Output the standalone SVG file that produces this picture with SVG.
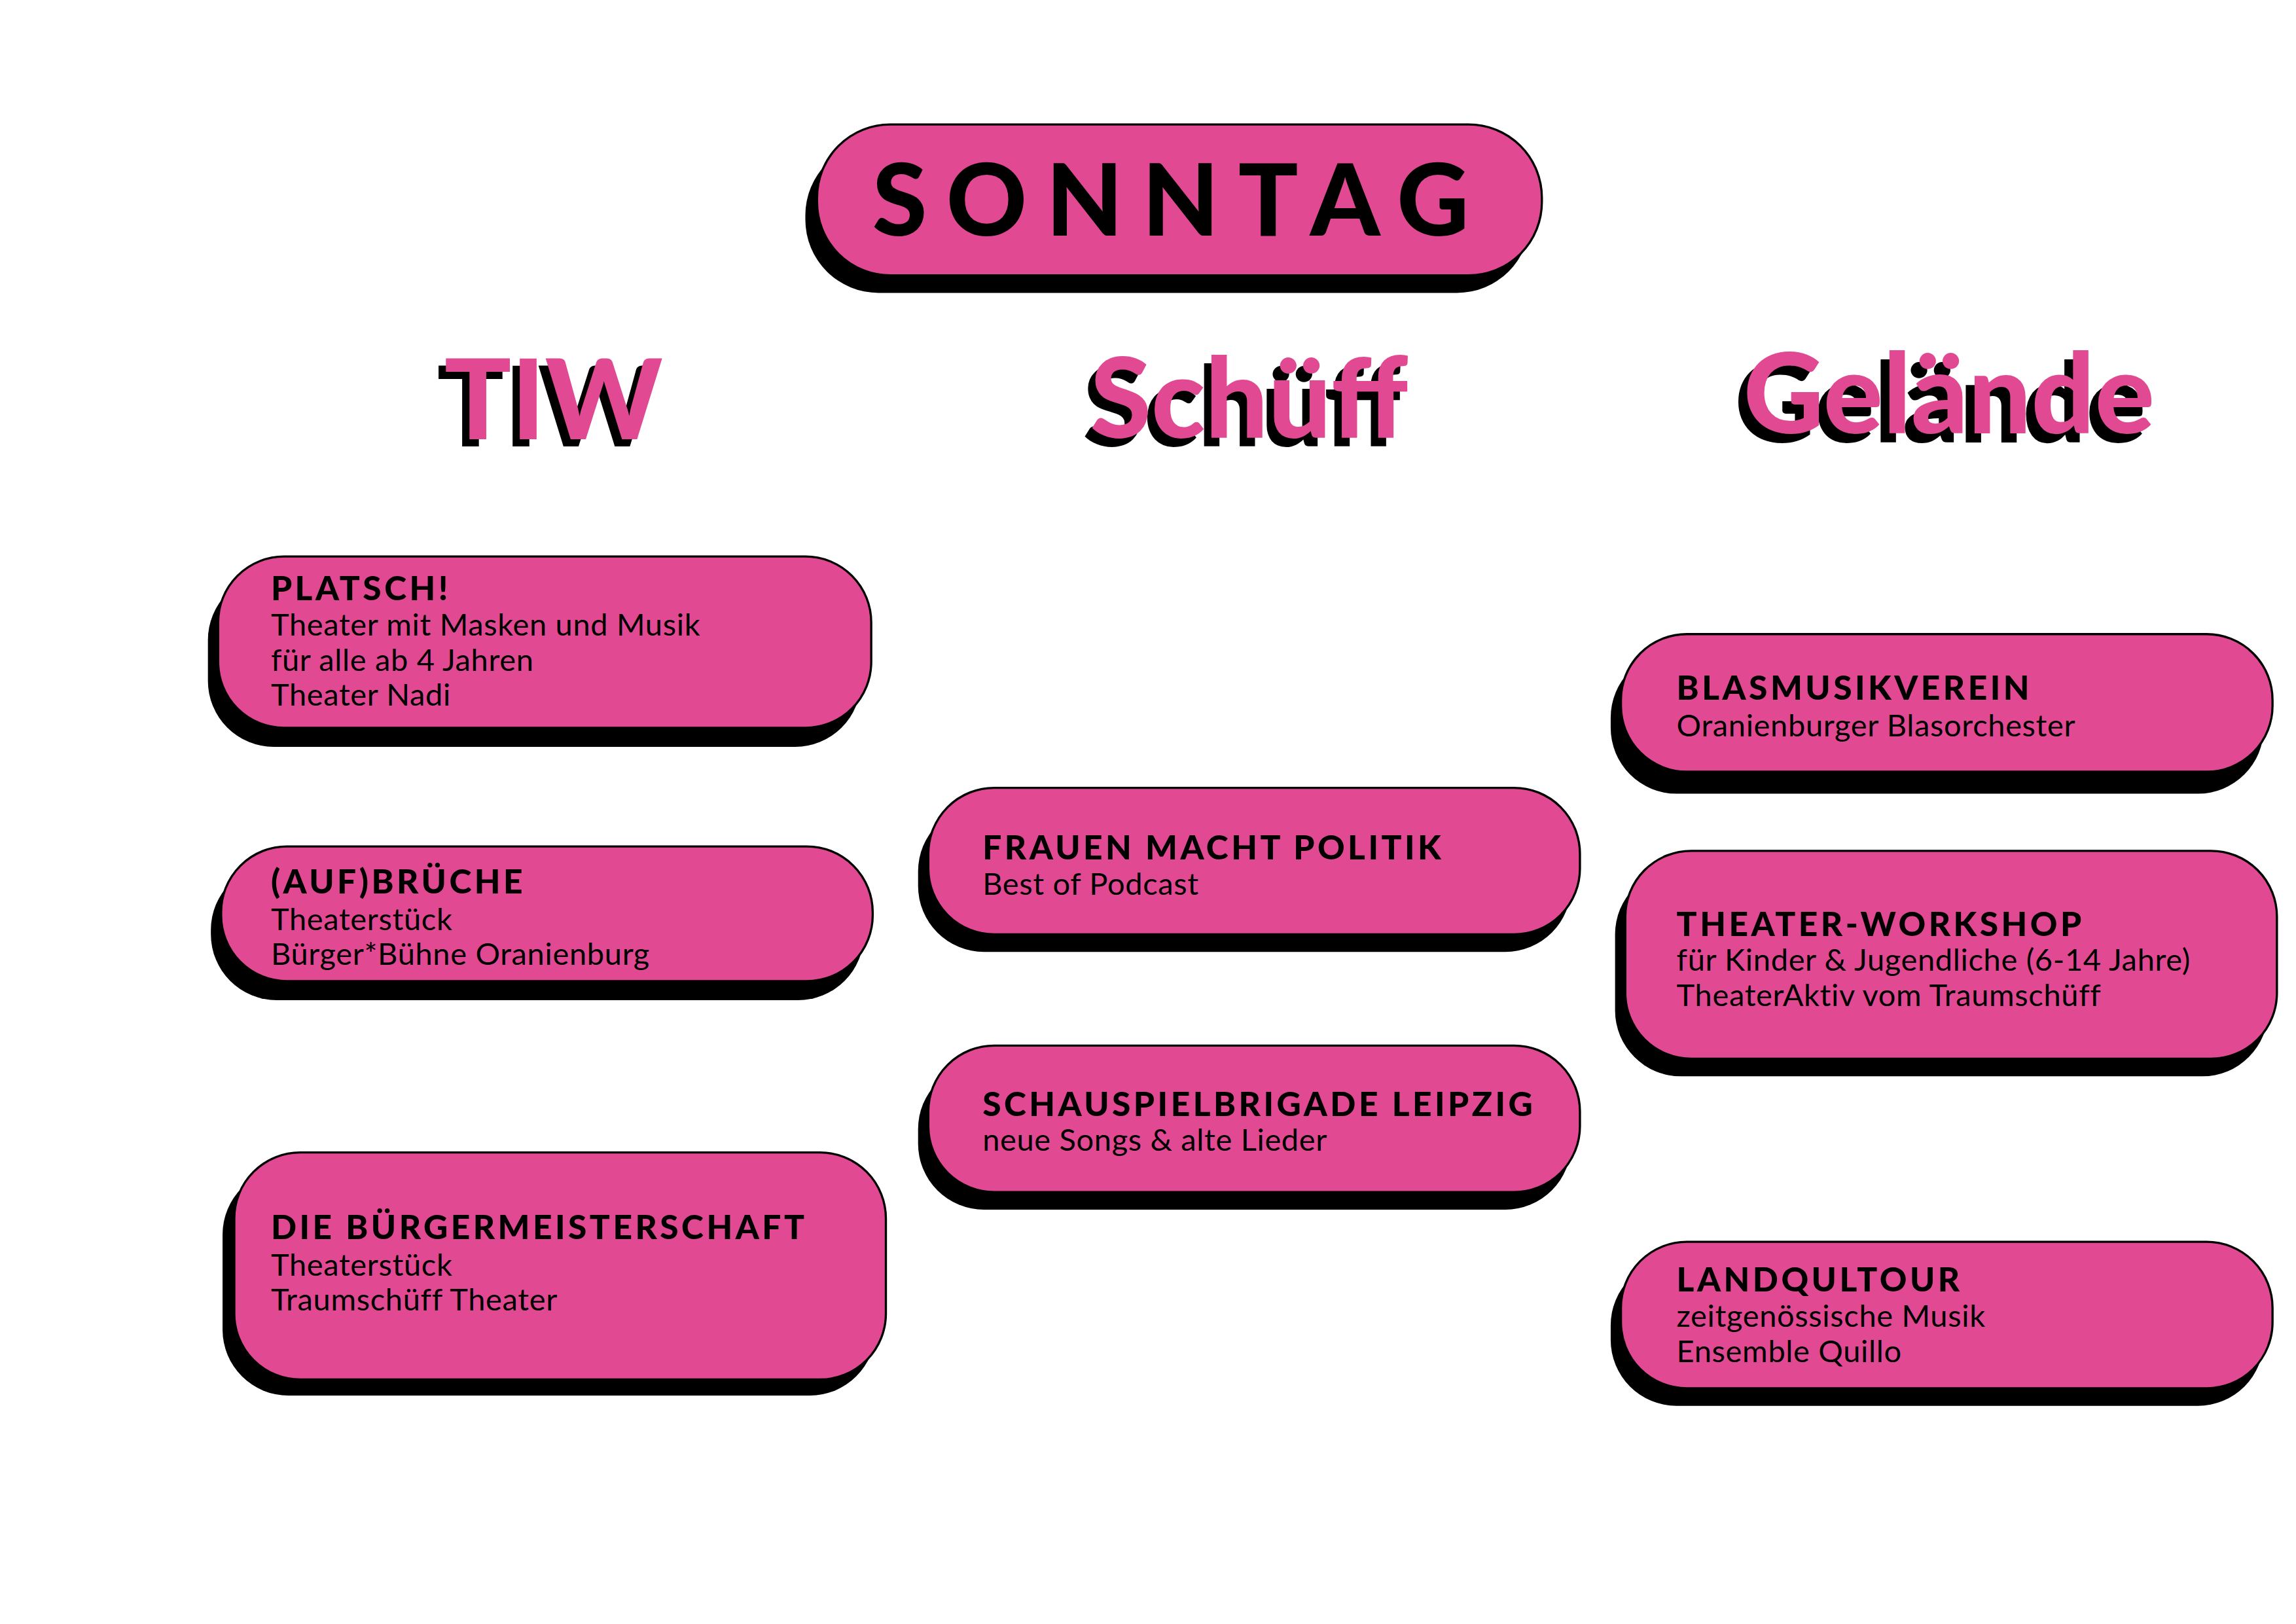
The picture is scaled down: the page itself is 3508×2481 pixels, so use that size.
<svg xmlns="http://www.w3.org/2000/svg" width="3508" height="2481" viewBox="0 0 3508 2481">
<style>
.sh{fill:#000}
.bx{fill:#E14A93;stroke:#000;stroke-width:1.5}
.t{font-family:Lato,"Open Sans",sans-serif;font-weight:900;font-size:23px;letter-spacing:2px;fill:#000}
.s{font-family:Lato,"Open Sans",sans-serif;font-size:21px;letter-spacing:0.3px;fill:#000}
.h{font-family:Lato,"Open Sans",sans-serif;font-weight:900;font-size:76px;text-anchor:middle}
</style>
<rect width="3508" height="2481" fill="#fff"/>
<g transform="scale(2.2372)">
<g id="sonntag">
<rect class="sh" x="550" y="97" width="495" height="103" rx="50"/>
<rect class="bx" x="558" y="85" width="495" height="103" rx="50"/>
<text x="806" y="161" text-anchor="middle" style="font-family:Lato,'Open Sans',sans-serif;font-weight:900;font-size:68px;letter-spacing:13px">SONNTAG</text>
</g>
<g id="head-tiw"><text class="h" x="373" y="305" fill="#000">TIW</text><text class="h" x="378" y="300" fill="#E14A93">TIW</text></g>
<g id="head-schueff"><text class="h" x="848" y="305" fill="#000">Schüff</text><text class="h" x="853" y="299" fill="#E14A93">Schüff</text></g>
<g id="head-gelaende"><text class="h" x="1325" y="302" fill="#000">Gelände</text><text class="h" x="1331" y="296" fill="#E14A93">Gelände</text></g>

<g id="platsch">
<rect class="sh" x="142" y="392" width="446" height="118" rx="45"/>
<rect class="bx" x="149" y="380" width="446" height="117" rx="45"/>
<text class="t" x="185" y="410">PLATSCH!</text>
<text class="s" x="185" y="434">Theater mit Masken und Musik</text>
<text class="s" x="185" y="458">für alle ab 4 Jahren</text>
<text class="s" x="185" y="482">Theater Nadi</text>
</g>
<g id="aufbrueche">
<rect class="sh" x="144" y="590" width="446" height="93" rx="45"/>
<rect class="bx" x="151" y="578" width="445" height="92" rx="45"/>
<text class="t" x="185" y="610">(AUF)BRÜCHE</text>
<text class="s" x="185" y="635">Theaterstück</text>
<text class="s" x="185" y="659">Bürger*Bühne Oranienburg</text>
</g>
<g id="buergermeisterschaft">
<rect class="sh" x="152" y="798" width="446" height="155" rx="45"/>
<rect class="bx" x="160" y="787" width="445" height="155" rx="45"/>
<text class="t" x="185" y="846">DIE BÜRGERMEISTERSCHAFT</text>
<text class="s" x="185" y="871">Theaterstück</text>
<text class="s" x="185" y="895">Traumschüff Theater</text>
</g>
<g id="frauen">
<rect class="sh" x="627" y="550" width="446" height="100" rx="45"/>
<rect class="bx" x="634" y="538" width="445" height="100" rx="45"/>
<text class="t" x="671" y="587">FRAUEN MACHT POLITIK</text>
<text class="s" x="671" y="611">Best of Podcast</text>
</g>
<g id="schauspielbrigade">
<rect class="sh" x="627" y="726" width="446" height="100" rx="45"/>
<rect class="bx" x="634" y="714" width="445" height="100" rx="45"/>
<text class="t" x="671" y="762">SCHAUSPIELBRIGADE LEIPZIG</text>
<text class="s" x="671" y="786">neue Songs &amp; alte Lieder</text>
</g>
<g id="blasmusik">
<rect class="sh" x="1100" y="445" width="446" height="97" rx="45"/>
<rect class="bx" x="1107" y="433" width="445" height="94" rx="45"/>
<text class="t" x="1145" y="478">BLASMUSIKVEREIN</text>
<text class="s" x="1145" y="503">Oranienburger Blasorchester</text>
</g>
<g id="workshop">
<rect class="sh" x="1103" y="593" width="446" height="142" rx="45"/>
<rect class="bx" x="1110" y="581" width="445" height="142" rx="45"/>
<text class="t" x="1145" y="639">THEATER-WORKSHOP</text>
<text class="s" x="1145" y="663">für Kinder &amp; Jugendliche (6-14 Jahre)</text>
<text class="s" x="1145" y="687">TheaterAktiv vom Traumschüff</text>
</g>
<g id="landqultour">
<rect class="sh" x="1100" y="860" width="446" height="100" rx="45"/>
<rect class="bx" x="1107" y="848" width="445" height="100" rx="45"/>
<text class="t" x="1145" y="882">LANDQULTOUR</text>
<text class="s" x="1145" y="906">zeitgenössische Musik</text>
<text class="s" x="1145" y="930">Ensemble Quillo</text>
</g>
<g id="connectors"/>
</g>
</svg>
